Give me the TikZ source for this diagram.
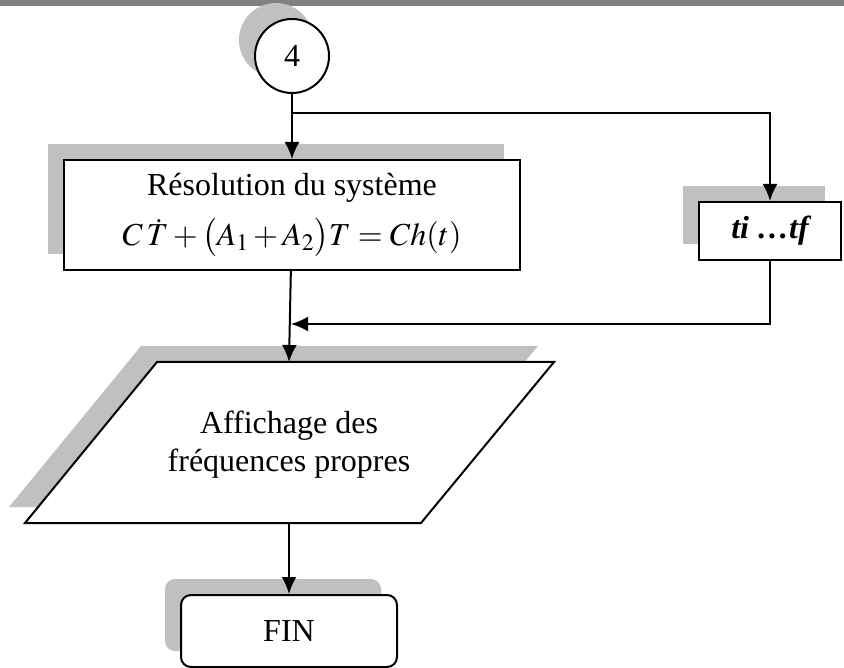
\documentclass[tikz,border=0pt]{standalone}
\usepackage{mathptmx}
\usepackage{fontspec}
\setmainfont{Liberation Serif}
\usetikzlibrary{shadows}
\usetikzlibrary{arrows.meta}
\definecolor{Shade}{RGB}{192,192,192}
\definecolor{Bar}{RGB}{128,128,128}

\begin{document}
\begin{tikzpicture}[x=1pt, y=-1pt, line width=2pt, >={Latex[length=17pt,width=15pt]}, font=\fontsize{32}{38}\selectfont]
    \tikzset{ shd/.style ={drop shadow={shadow xshift=-16pt, shadow yshift=16pt, fill=Shade, opacity=1}} }
    \tikzset{ blk/.style ={draw=black, fill=white, shd, inner sep=0pt, align=center} }

    \useasboundingbox (0,0) rectangle (844,668);
    \fill[Bar] (0,0) rectangle (844,6);

    \node[blk, circle, minimum size=74pt] (lbl4) at (292,56) {4};
    \node[blk, minimum width=456pt, minimum height=110pt] (res) at (292,215) {Résolution du système\\[12pt]$C\,\dot{T} + \bigl(A_1 + A_2\bigr)T = Ch(t)$};
    \node[blk, minimum width=142pt, minimum height=58pt, font=\fontsize{32}{38}\selectfont\bfseries\itshape] (tt) at (770,231) {ti …tf};

    \filldraw[fill=white, shd] (157,362) -- (554,362) -- (421,523) -- (25,523) -- cycle;
    \node[align=center] (aff) at (289,445) {Affichage des\\fréquences propres};
    \coordinate (aff_n) at (289,362);
    \coordinate (aff_s) at (289,523);

    \node[blk, rounded corners=10pt, minimum width=216pt, minimum height=72pt] (fin) at (289,631) {FIN};

    \coordinate (split) at (292,113);
    \coordinate (merge) at (291,324);

    \draw[->] (lbl4)  -- (res);
    \draw[->] (split) -| (tt);
    \draw[->] (tt)    |- (merge);
    \draw[->] (res)   -- (aff_n);
    \draw[->] (aff_s) -- (fin);

\end{tikzpicture}
\end{document}
